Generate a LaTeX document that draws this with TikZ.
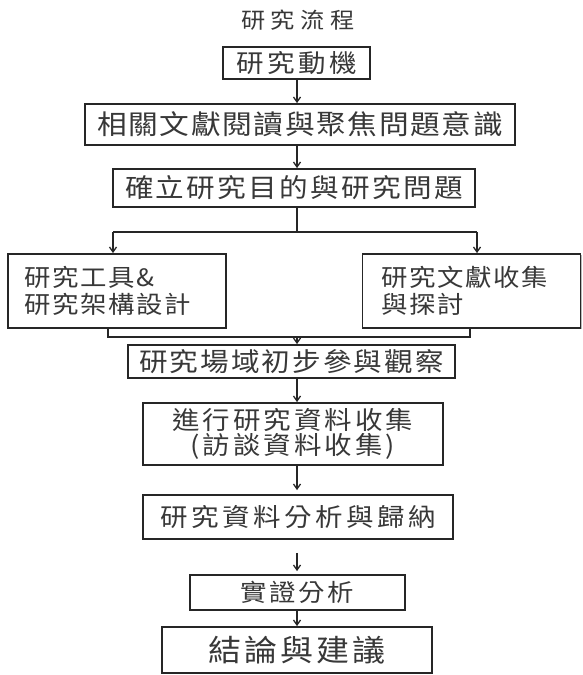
\documentclass[tikz,border=0pt]{standalone}
\usepackage{fontspec}
\setmainfont{Noto Sans CJK TC}[FakeStretch=1.1]
\usetikzlibrary{arrows.meta,shadows,calc}
\newcommand\setfz[3]{\fontsize{#1}{#2}\selectfont\addfontfeatures{LetterSpace=#3}}
\tikzset{
  box/.style={draw=black!85, line width=1.8pt, fill=white, inner sep=0pt,
    text=black!78, align=center,
    drop shadow={shadow xshift=1.2pt, shadow yshift=-1.2pt, opacity=.45, fill=black!60}},
  sidebox/.style={box, align=left, inner xsep=16pt},
  conn/.style={draw=black!85, line width=1.3pt},
  arr/.style={conn, -{Straight Barb[length=5pt,width=7pt]}},
  ttl/.style={text=black!78, inner sep=0pt}
}
\begin{document}
\begin{tikzpicture}[x=1pt,y=-1pt]
\useasboundingbox[fill=white] (0,0) rectangle (583,675);
\coordinate (axis) at (297,0);
\node[ttl, font=\setfz{22}{26}{26}] (title) at (298,20) {研究流程};
\node[box, minimum width=147pt, minimum height=32pt, font=\setfz{25}{29}{14}] (b1) at (296.5,63) {研究動機};
\node[box, minimum width=430pt, minimum height=41pt, font=\setfz{27}{31}{6}] (b2) at (300,124.5) {相關文獻閱讀與聚焦問題意識};
\node[box, minimum width=362pt, minimum height=38pt, font=\setfz{26}{30}{9}] (b3) at (294,188) {確立研究目的與研究問題};
\node[sidebox, minimum width=218pt, minimum height=74pt, text width=186pt, font=\setfz{24}{27}{7}] (bl) at (117,291) {研究工具\&\\研究架構設計\\[6pt]};
\node[sidebox, minimum width=215pt, minimum height=74pt, text width=180pt, inner xsep=19pt, font=\setfz{24}{27}{7}] (br) at (471.5,291) {研究文獻收集\\與探討\\[6pt]};
\node[box, minimum width=327pt, minimum height=33pt, font=\setfz{26}{30}{8}] (b6) at (291.5,361.5) {研究場域初步參與觀察};
\node[box, minimum width=300pt, minimum height=62pt, font=\setfz{25}{25}{12}] (b7) at (293,434) {進行研究資料收集\\(訪談資料收集)};
\node[box, minimum width=310pt, minimum height=44pt, font=\setfz{25}{29}{14}] (b8) at (298,517) {研究資料分析與歸納};
\node[box, minimum width=215pt, minimum height=35pt, font=\setfz{24}{28}{11}] (b9) at (297.5,592.5) {實證分析};
\node[box, minimum width=270pt, minimum height=46pt, font=\setfz{30}{34}{10}] (b10) at (297,650) {結論與建議};
% arrows
\draw[arr] (b1.south -| axis) -- (b2.north -| axis);
\draw[arr] (b2.south -| axis) -- (b3.north -| axis);
\coordinate (split) at (297,232);
\coordinate (sl) at (113,232);
\coordinate (sr) at (477,232);
\draw[conn] (b3.south -| axis) -- (split);
\draw[conn] (sl) -- (sr);
\draw[arr] (sl) -- (sl |- bl.north);
\draw[arr] (sr) -- (sr |- br.north);
\coordinate (ml) at (108,337);
\coordinate (mr) at (470,337);
\coordinate (merge) at (297,337);
\draw[conn] (bl.south -| ml) -- (ml) -- (mr) -- (br.south -| mr);
\draw[arr] (merge) -- (b6.north -| axis);
\draw[arr] (b6.south -| axis) -- (b7.north -| axis);
\draw[arr, shorten >=4pt] (b7.south -| axis) -- (b8.north -| axis);
\draw[arr, shorten <=13pt, shorten >=3pt] (b8.south -| axis) -- (b9.north -| axis);
\draw[arr] (b9.south -| axis) -- (b10.north -| axis);
\end{tikzpicture}
\end{document}
